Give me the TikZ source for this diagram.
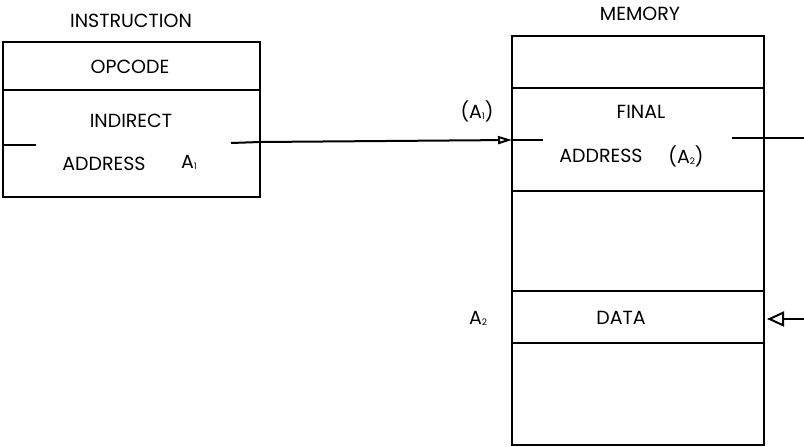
\documentclass[tikz,border=0pt]{standalone}
\usepackage{fontspec}
\setmainfont{Poppins}
\usetikzlibrary{arrows.meta}
\newcommand{\mysub}[1]{\raisebox{-0.1ex}{\fontsize{9}{9}\selectfont #1}}
\begin{document}
\begin{tikzpicture}[x=1pt,y=-1pt,
  box/.style={line width=2.6pt},
  lbl/.style={font=\fontsize{19}{22}\selectfont, inner sep=0pt},
  wire/.style={line width=2pt},
  arr/.style={line width=2pt,-{Triangle[open,length=17pt,width=15pt,line width=2pt]}},
  arrsmall/.style={line width=2pt,-{Triangle[open,length=14pt,width=8pt,line width=2pt]}}]
\useasboundingbox (0,0) rectangle (804,447);
% instruction
\draw[box] (3,42) rectangle (260,197);
\draw[box] (3,90) -- (260,90);
\node[lbl] (instr) at (131,21) {INSTRUCTION};
\node[lbl] (opcode) at (130,67) {OPCODE};
\node[lbl] (indirect) at (131,121) {INDIRECT};
\node[lbl] (addr) at (104,164) {ADDRESS};
\node[lbl] (a1) at (189,162) {A\mysub{1}};
\coordinate (il) at (3,145);
\coordinate (ile) at (36,145);
\coordinate (ir) at (231,143);
\coordinate (ire) at (260,142);
\coordinate (mlin) at (512,140);
\draw[wire] (il) -- (ile);
\draw[wire] (ir) -- (ire);
\draw[arrsmall] (ire) -- (mlin);
% memory
\draw[box] (512,36) rectangle (764,445);
\draw[box] (512,88) -- (764,88);
\draw[box] (512,191) -- (764,191);
\draw[box] (512,291) -- (764,291);
\draw[box] (512,343) -- (764,343);
\node[lbl] (mem) at (640,14) {MEMORY};
\node[lbl] (a1p) at (477,111) {(A\mysub{1})};
\node[lbl] (final) at (641,112) {FINAL};
\node[lbl] (addr2) at (601,156) {ADDRESS};
\node[lbl] (a2p) at (686,156) {(A\mysub{2})};
\coordinate (mle) at (543,140);
\draw[wire] (mlin) -- (mle);
\coordinate (mr) at (732,138);
\coordinate (mre) at (804,138);
\draw[wire] (mr) -- (mre);
\node[lbl] (a2) at (478,318) {A\mysub{2}};
\node[lbl] (data) at (621,318) {DATA};
\coordinate (din) at (804,319);
\coordinate (dtip) at (767,319);
\draw[arr] (din) -- (dtip);
\end{tikzpicture}
\end{document}
